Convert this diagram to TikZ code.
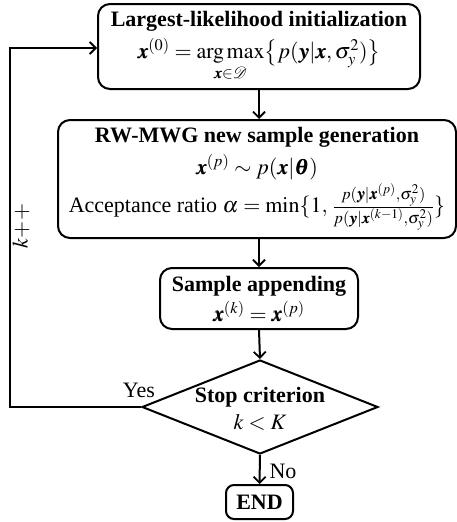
\documentclass[tikz,border=0pt]{standalone}
\usepackage{amsmath}
\usepackage{mathptmx}
\usepackage{bm}
\usepackage[no-math]{fontspec}
\setmainfont{Liberation Serif}
\usetikzlibrary{arrows.meta,shapes.geometric}

\newcommand{\bx}{\bm{x}}
\newcommand{\by}{\bm{y}}

\tikzset{
  procbox/.style={draw, line width=2pt, rounded corners=12pt, align=center, inner sep=0pt},
  decision/.style={draw, diamond, line width=2pt, inner sep=0pt},
  flow/.style={line width=2pt, -{Straight Barb[length=6pt,width=12pt,line width=1.8pt]}},
  note/.style={inner sep=0pt}
}

\begin{document}
\begin{tikzpicture}[x=1pt, y=-1pt, font=\fontsize{22}{26}\selectfont]
  \useasboundingbox (0,0) rectangle (457,522);

  % process boxes
  \node[procbox, minimum width=322, minimum height=85] (init) at (259,46.5)
    {\textbf{Largest-likelihood initialization}\\[6pt]
     $\bx^{(0)} = \mathop{\mathrm{arg\,max}}\limits_{\bx\in\mathcal{D}}
      \bigl\{p(\by|\bx,\sigma_y^2)\bigr\}$\rule[-14pt]{0pt}{14pt}};

  \node[procbox, minimum width=398, minimum height=118] (gen) at (257,179)
    {\textbf{RW-MWG new sample generation}\\[6pt]
     $\bx^{(p)} \sim p(\bx|\bm{\theta})$\\[2pt]
     Acceptance ratio $\alpha = \min\{1,\,
       \frac{p(\by|\bx^{(p)},\sigma_y^2)}{p(\by|\bx^{(k-1)},\sigma_y^2)}\}$};

  \node[procbox, minimum width=198, minimum height=61] (app) at (259,298.5)
    {\textbf{Sample appending}\\[4pt] $\bx^{(k)} = \bx^{(p)}$};

  % decision
  \node[decision, minimum width=236, minimum height=94] (stop) at (260,407) {};
  \node[align=center, inner sep=0pt] (stoptxt) at (260,409)
    {\textbf{Stop criterion}\\[1pt] $k<K$};

  \node[procbox, rounded corners=8pt, minimum width=67, minimum height=34] (fin) at (259.5,502)
    {\textbf{END}};

  % main flow
  \draw[flow] (init.south) -- (init.south |- gen.north);
  \draw[flow] (gen.south -| app.north) -- (app.north);
  \draw[flow] (app.south) -- (stop.north);
  \draw[flow] (stop.south) -- (fin.north);

  % loop back
  \coordinate (lb) at (10,407);
  \coordinate (lt) at (10,48);
  \draw[flow] (stop.west) -- (lb) -- (lt) -- (lt -| init.west);

  % labels
  \node[note] (yes) at (139,390) {Yes};
  \node[note] (no) at (283,471) {No};
  \node[note, rotate=90] (inc) at (21,226) {$k{+}{+}$};
\end{tikzpicture}
\end{document}
